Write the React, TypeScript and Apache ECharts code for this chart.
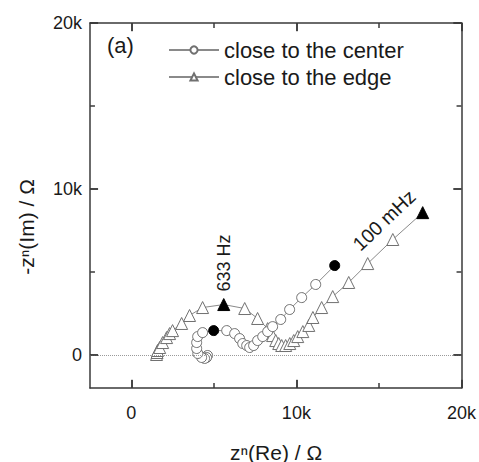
import React, { useEffect, useRef } from "react";
import * as echarts from "echarts";

// close to the center (circles), high -> low frequency
const centerRe = [4620, 4560, 4440, 4260, 4030, 3960, 3960, 4020, 4320, 4990, 5780, 6260, 6560, 6750, 6990, 7170, 7410, 7650, 7960, 8260, 8560, 9050, 9590, 10320, 11170, 12320];
const centerIm = [-40, -160, -220, -160, 80, 380, 740, 1100, 1340, 1460, 1460, 1280, 980, 680, 560, 440, 560, 860, 1100, 1400, 1700, 2130, 2730, 3450, 4240, 5380];
const centerFilled = [9, 25];

// close to the edge (triangles), high -> low frequency
const edgeRe = [1530, 1560, 1590, 1720, 1900, 2140, 2320, 2500, 3050, 3530, 4320, 5600, 6870, 7650, 8260, 8560, 8750, 8930, 9110, 9350, 9600, 9840, 10080, 10390, 10750, 11000, 11530, 12200, 13170, 14320, 15840, 17650];
const edgeIm = [20, 140, 260, 440, 740, 1040, 1280, 1460, 1890, 2370, 2850, 3030, 2790, 2190, 1580, 1160, 860, 680, 560, 560, 680, 860, 1100, 1400, 1770, 2250, 2850, 3510, 4360, 5500, 6950, 8570];
const edgeFilled = [11, 31];

const labelTicks = [0, 10000, 20000];
const allTicks = [0, 5000, 10000, 15000, 20000];

const X_MIN = -2500, X_MAX = 20000, Y_MIN = -2000, Y_MAX = 20000;
const FONT = "Liberation Sans, Arial, sans-serif";
const AXIS_COLOR = "#3a3a3a";

function fmt(v: number) {
  if (v === 0) return "0";
  return v / 1000 + "k";
}

export default function App() {
  const ref = useRef<HTMLDivElement>(null);
  useEffect(() => {
    const chart = echarts.init(ref.current!, null, { renderer: "svg" });
    const mk = (re: number[], im: number[], filled: number[]) =>
      re.map((x, i) =>
        filled.includes(i)
          ? { value: [x, im[i]], itemStyle: { color: "#000", borderColor: "#000" } }
          : { value: [x, im[i]] }
      );

    // inward ticks on all four sides, in data units (major ~8px, minor ~5px);
    // a tiny inset keeps the end points strictly inside the axis extents
    const eps = 5;
    const tickStyle = { type: "solid", color: AXIS_COLOR, width: 1.5 };
    const clampX = (v: number) => Math.min(Math.max(v, X_MIN + eps), X_MAX - eps);
    const clampY = (v: number) => Math.min(Math.max(v, Y_MIN + eps), Y_MAX - eps);
    const tickLines: any[] = [];
    allTicks.forEach((v) => {
      const major = labelTicks.includes(v);
      const len = major ? 490 : 300;
      const xv = clampX(v), yv = clampY(v);
      tickLines.push([{ coord: [xv, Y_MIN + eps], lineStyle: tickStyle }, { coord: [xv, Y_MIN + len] }]);
      tickLines.push([{ coord: [xv, Y_MAX - eps], lineStyle: tickStyle }, { coord: [xv, Y_MAX - len] }]);
      tickLines.push([{ coord: [X_MIN + eps, yv], lineStyle: tickStyle }, { coord: [X_MIN + len, yv] }]);
      tickLines.push([{ coord: [X_MAX - eps, yv], lineStyle: tickStyle }, { coord: [X_MAX - len, yv] }]);
    });

    const frameAxis = (isX: boolean, position: string, labels: boolean) => ({
      type: "value",
      position,
      min: isX ? X_MIN : Y_MIN,
      max: isX ? X_MAX : Y_MAX,
      interval: isX ? 2500 : 2000,
      axisLine: { show: true, onZero: false, lineStyle: { color: AXIS_COLOR, width: 1.5 } },
      splitLine: { show: false },
      axisTick: { show: true, inside: true, length: 8, customValues: labelTicks, lineStyle: { color: AXIS_COLOR, width: 1.5 } },
      axisLabel: labels
        ? { show: true, customValues: labelTicks, formatter: fmt, fontSize: 18, color: "#1a1a1a", margin: isX ? 16 : 8, fontFamily: FONT }
        : { show: false },
    });

    chart.setOption({
      animation: false,
      grid: { left: 90, top: 23, right: 17.3, bottom: 74 },
      xAxis: [frameAxis(true, "bottom", true), frameAxis(true, "top", false)],
      yAxis: [frameAxis(false, "left", true), frameAxis(false, "right", false)],
      legend: {
        orient: "vertical", left: 163, top: 34, itemWidth: 50, itemHeight: 9, itemGap: 5,
        textStyle: { fontSize: 22, color: "#1a1a1a", fontFamily: FONT },
        data: ["close to the center", "close to the edge"],
      },
      graphic: [
        { type: "text", left: 107, top: 34, style: { text: "(a)", fontSize: 22, fill: "#1a1a1a", fontFamily: FONT } },
        { type: "text", x: 224, y: 263, rotation: Math.PI / 2, style: { text: "633 Hz", fontSize: 18, fill: "#1a1a1a", fontFamily: FONT, align: "center", verticalAlign: "middle" } },
        { type: "text", x: 384, y: 220, rotation: 0.76, style: { text: "100 mHz", fontSize: 19.5, fill: "#1a1a1a", fontFamily: FONT, align: "center", verticalAlign: "middle" } },
        { type: "text", x: 276, y: 452, style: { text: "z\u207F(Re) / \u03A9", fontSize: 21, fill: "#1a1a1a", fontFamily: FONT, align: "center", verticalAlign: "middle" } },
        { type: "text", x: 26, y: 227, rotation: Math.PI / 2, style: { text: "-z\u207F(Im) / \u03A9", fontSize: 21, fill: "#1a1a1a", fontFamily: FONT, align: "center", verticalAlign: "middle" } },
      ],
      series: [
        {
          name: "close to the center", type: "line", data: mk(centerRe, centerIm, centerFilled),
          symbol: "circle", symbolSize: 10,
          lineStyle: { color: "#8a8a8a", width: 1 },
          itemStyle: { color: "#fff", borderColor: "#707070", borderWidth: 1 },
          markLine: {
            silent: true, symbol: "none", label: { show: false },
            lineStyle: { type: "dotted", color: "#9a9a9a", width: 1 },
            data: [{ yAxis: 0 }],
          },
          z: 3,
        },
        {
          name: "close to the edge", type: "line", data: mk(edgeRe, edgeIm, edgeFilled),
          symbol: "triangle", symbolSize: 12,
          lineStyle: { color: "#8a8a8a", width: 1 },
          itemStyle: { color: "#fff", borderColor: "#707070", borderWidth: 1 },
          clip: false,
          markLine: {
            silent: true, symbol: "none", label: { show: false },
            lineStyle: tickStyle,
            data: tickLines,
          },
          z: 2,
        },
      ],
    });
    return () => chart.dispose();
  }, []);
  return <div ref={ref} style={{ width: 479, height: 462, position: "absolute", left: 0, top: 0 }} />;
}
